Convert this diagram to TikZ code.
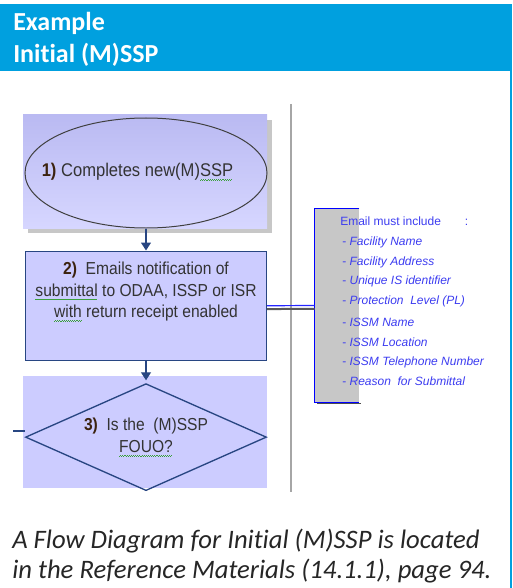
\documentclass[tikz,border=0pt]{standalone}
\usepackage{fontspec}
\usepackage{xcolor}
\usetikzlibrary{shapes.geometric,arrows.meta,positioning,calc}

\setmainfont[Ligatures=NoCommon]{Carlito}
\newfontfamily\flowfont[FakeStretch=0.9]{Liberation Sans}
\newfontfamily\notefont{Liberation Sans}

\definecolor{hdrblue}{RGB}{0,160,223}
\definecolor{lav}{RGB}{204,204,255}
\definecolor{lavtop}{RGB}{186,186,242}
\definecolor{navy}{RGB}{40,70,130}
\definecolor{noteblue}{RGB}{60,60,240}
\definecolor{numbrown}{RGB}{60,35,15}
\definecolor{spellgreen}{RGB}{60,160,60}

% green squiggle under flagged words
\newsavebox\wavebox
\newcommand\spellwave[1]{\sbox\wavebox{#1}\rlap{\color{spellgreen}\leaders\hbox{\rule[-2.9pt]{0.8pt}{0.55pt}\rule[-2.3pt]{0.8pt}{0.55pt}}\hskip\wd\wavebox}\usebox\wavebox}
\newcommand\stepno[1]{\textcolor{numbrown}{\bfseries #1}}

\begin{document}
\begin{tikzpicture}[x=0.75pt, y=-0.75pt, node distance=16.5pt,
    flowell/.style={ellipse, draw=black!75, line width=0.75pt, minimum width=181.5pt, minimum height=82.5pt, inner sep=0pt},
    flowbox/.style={rectangle, draw=navy, line width=1.1pt, fill=lav, minimum width=180.75pt, minimum height=81.75pt},
    flowdia/.style={diamond, aspect=2.25, draw=navy, line width=1pt, minimum width=180.75pt, minimum height=80.25pt, inner sep=0pt, align=center, font=\flowfont\fontsize{13}{16.5}\selectfont, text=black!80},
    flowtext/.style={inner sep=0pt, align=center, font=\flowfont\fontsize{13}{16.2}\selectfont, text=black!80},
    flowarrow/.style={-{Triangle[length=6pt,width=7.5pt]}, navy, line width=0.9pt},
    notebox/.style={rectangle, fill=black!22, minimum width=33pt, minimum height=144.75pt, inner sep=0pt},
    notetext/.style={inner sep=0pt, align=left, text=noteblue, font=\notefont\fontsize{9}{14.7}\selectfont},
    titletext/.style={anchor=base west, inner sep=0pt, text=white, font=\bfseries\fontsize{19.5}{24}\selectfont},
    captext/.style={anchor=base west, inner sep=0pt, text=black!85, font=\itshape\fontsize{20}{23}\selectfont}]

    \useasboundingbox (0,0) rectangle (512,588);

    % header band
    \fill[hdrblue] (0,4) rectangle (512,71);
    \draw[hdrblue, line width=0.9pt] (511,71) -- (511,588);
    \node[titletext] (title1) at (13,31) {Example};
    \node[titletext] (title2) at (13,63) {Initial (M)SSP};

    % backgrounds behind the flow shapes
    \fill[black!22] (28,120) rectangle (272,233);
    \shade[top color=lavtop, bottom color=lav!80] (23,115) rectangle (267,228);
    \fill[lav] (23,376) rectangle (267,488);

    % flow
    \node[flowell] (s1) at (146,173) {};
    \node[flowtext, font=\flowfont\fontsize{13.8}{16}\selectfont] (s1t) at (137.5,172) {\stepno{1)} Completes new(M)\spellwave{SSP}};
    \node[flowbox, below=of s1] (s2) {};
    \node[flowtext, anchor=north] (s2t) at ([yshift=-8.5pt]s2.north) {\stepno{2)}\ \ Emails notification of\\ \spellwave{submittal} to ODAA, ISSP or ISR\\ \spellwave{with} return receipt enabled};
    \node[flowdia, below=of s2] (s3) {\stepno{3)}\ \ Is the\ \ (M)SSP\\ \spellwave{FOUO?}};

    \draw[flowarrow] (s1) -- (s2);
    \draw[flowarrow, shorten >=2pt] (s2) -- (s3);

    \coordinate (stub) at (13,431);
    \draw[navy, line width=0.9pt] (stub) -- (stub -| s3.west);

    % divider
    \draw[black!35, line width=1.1pt] (291,104) -- (291,492);

    % email callout
    \node[notebox] (note) at (337,305.5) {};
    \draw[black!70, line width=1.2pt] ([xshift=2pt,yshift=-1pt]note.south west) -- ([xshift=1pt,yshift=-1pt]note.south east);
    \draw[blue, line width=1pt] (note.north east) -- (note.north west) -- (note.south west) -- (note.south east);
    \draw[blue!85, line width=0.9pt] (s2.east) -- (note.west);
    \draw[black!65, line width=1.5pt] ([yshift=-2.5pt]s2.east) -- ([yshift=-2.5pt]note.west);

    \node[notetext, anchor=north west] (notetxt) at (340,217) {Email must include\hspace{18pt}:\\
        \hspace*{1.5pt}- \textit{Facility Name}\\
        \hspace*{1.5pt}- \textit{Facility Address}\\
        \hspace*{1.5pt}- \textit{Unique IS identifier}\\
        \hspace*{1.5pt}- \textit{Protection\ \ Level (PL)}\\[2pt]
        \hspace*{1.5pt}- \textit{ISSM Name}\\
        \hspace*{1.5pt}- \textit{ISSM Location}\\
        \hspace*{1.5pt}- \textit{ISSM Telephone Number}\\
        \hspace*{1.5pt}- \textit{Reason\ \ for Submittal}};

    % caption
    \node[captext] (cap1) at (12,548) {A Flow Diagram for Initial (M)SSP is located};
    \node[captext] (cap2) at (12,578) {in the Reference Materials (14.1.1), page 94.};

\end{tikzpicture}
\end{document}
